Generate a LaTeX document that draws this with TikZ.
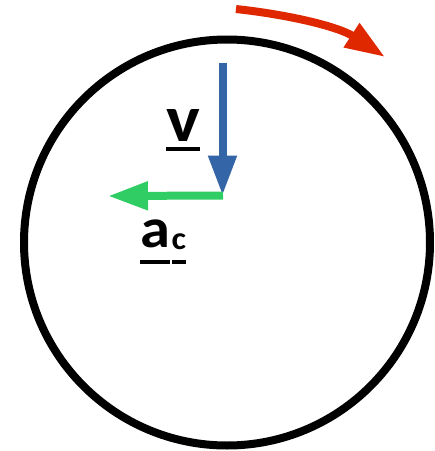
\documentclass[tikz,border=0pt]{standalone}
\usepackage{fontspec}
\setmainfont{Carlito}
\usetikzlibrary{arrows.meta}

\definecolor{velblue}{RGB}{52,101,166}
\definecolor{accgreen}{RGB}{48,204,100}
\definecolor{rotred}{RGB}{224,40,0}

\tikzset{
    vec/.style={line width=8pt, -{Triangle[length=40pt, width=27pt]}},
    lbl/.style={inner sep=0pt, anchor=base west, xscale=1.08, transform shape},
    uline/.style={line width=4pt}
}

\begin{document}
\begin{tikzpicture}[x=1pt, y=-1pt]
    \useasboundingbox (0,0) rectangle (435,451);

    % kruh
    \draw[line width=8pt] (227,242.5) circle[radius=203pt];

    % smer otaceni
    \coordinate (rotstart) at (236,9);
    \coordinate (rotend) at (385,57);
    \draw[vec, rotred] (rotstart) .. controls (291,15) and (339,27) .. (rotend);

    % vektory
    \coordinate (vtop) at (222.5,63);
    \coordinate (p) at (222.5,195.5);
    \coordinate (actip) at (108,196);
    \draw[vec, velblue] (vtop) -- (p);
    \draw[vec, accgreen] ([xshift=0.5pt]p) -- (actip);

    % popisky
    \node[lbl, font=\fontsize{66}{66}\selectfont\bfseries] (v) at (166,141) {v};
    \draw[uline] ([yshift=-8pt]v.base west) -- ([yshift=-8pt]v.base east);
    \node[lbl, font=\fontsize{56}{56}\selectfont\bfseries] (a) at (140,247) {a};
    \node[lbl, font=\fontsize{32}{32}\selectfont\bfseries] (c) at ([xshift=1pt, yshift=-2pt]a.base east) {c};
    \draw[uline] ([yshift=-14.5pt]a.base west) -- ([yshift=-14.5pt]a.base east);
    \draw[uline] ([xshift=1pt, yshift=-12.5pt]c.base west) -- ([yshift=-12.5pt]c.base east);
\end{tikzpicture}
\end{document}
